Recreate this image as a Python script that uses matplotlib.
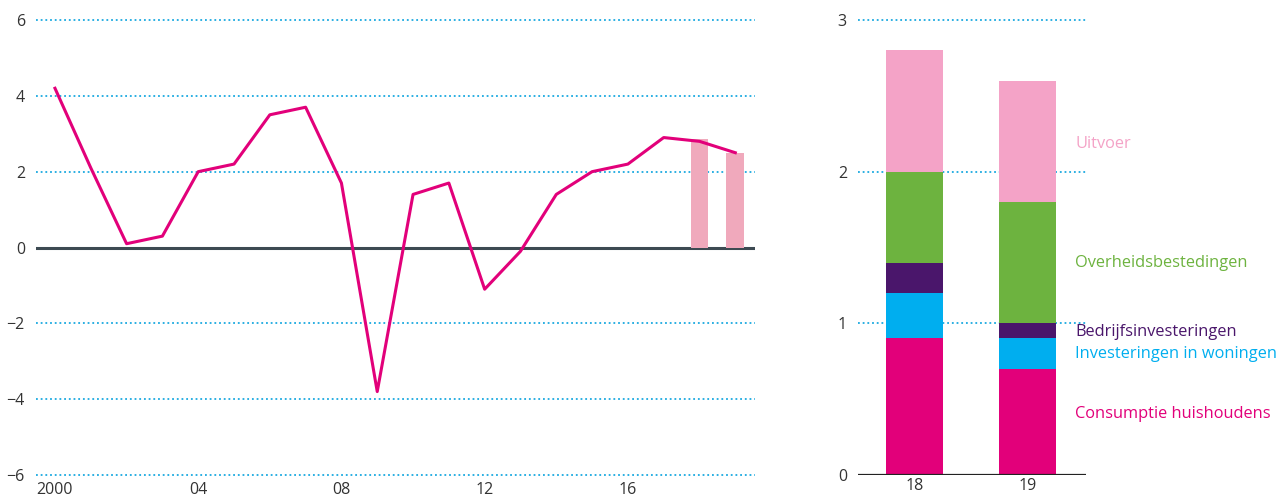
import matplotlib.pyplot as plt
import numpy as np

plt.rcParams['font.family'] = ['Open Sans', 'DejaVu Sans']

# Left chart: GDP growth (%)
years = np.arange(2000, 2020)
growth = [4.2, 2.1, 0.1, 0.3, 2.0, 2.2, 3.5, 3.7, 1.7, -3.8,
          1.4, 1.7, -1.1, -0.1, 1.4, 2.0, 2.2, 2.9, 2.8, 2.5]
forecast_years = [2018, 2019]
forecast_vals = [2.85, 2.5]
left_ticks = [2000, 2004, 2008, 2012, 2016]
left_ticklabels = ["2000", "04", "08", "12", "16"]

# Right chart: contributions to growth
bar_labels = ["18", "19"]
consumptie = [0.9, 0.7]
woningen = [0.3, 0.2]
bedrijfs = [0.2, 0.1]
overheid = [0.6, 0.8]
uitvoer = [0.8, 0.8]

pink = "#e2007a"
blue_grid = "#1aa9e0"
text_col = "#333333"

fig = plt.figure(figsize=(12.78, 4.99), dpi=100)

# ---- left panel
ax1 = fig.add_axes([36/1278, 0.0405, 719/1278, 0.927])
ax1.set_xlim(1999.47, 2019.55)
ax1.set_ylim(-6.1, 6.1)
for y in [-6, -4, -2, 2, 4, 6]:
    ax1.axhline(y, color=blue_grid, lw=1.3, ls=(0, (1, 1.6)), zorder=1)
ax1.axhline(0, color="#3d4a52", lw=2.2, zorder=2)
ax1.bar(forecast_years, forecast_vals, width=0.5, color="#f0a9bc", zorder=3)
ax1.plot(years, growth, color=pink, lw=2.2, zorder=4)
ax1.set_yticks([-6, -4, -2, 0, 2, 4, 6])
ax1.set_yticklabels(["\u22126", "\u22124", "\u22122", "0", "2", "4", "6"])
ax1.set_xticks(left_ticks)
ax1.set_xticklabels(left_ticklabels)

# ---- right panel
ax2 = fig.add_axes([858/1278, 0.0481, 228/1278, 0.921])
ax2.set_xlim(-0.5, 1.52)
ax2.set_ylim(0, 3.03)
for y in [1, 2, 3]:
    ax2.axhline(y, color=blue_grid, lw=1.3, ls=(0, (1, 1.6)), zorder=1)
ax2.axhline(0, color="#222222", lw=1.6, zorder=4)

x = np.arange(len(bar_labels))
series = [
    (consumptie, "#e2007a", "Consumptie huishoudens", 0.40),
    (woningen, "#00aeef", "Investeringen in woningen", 0.80),
    (bedrijfs, "#4a166b", "Bedrijfsinvesteringen", 0.94),
    (overheid, "#6db33f", "Overheidsbestedingen", 1.40),
    (uitvoer, "#f4a3c7", "Uitvoer", 2.18),
]
bottom = np.zeros(len(bar_labels))
for vals, col, name, ypos in series:
    ax2.bar(x, vals, bottom=bottom, width=0.5, color=col, zorder=3)
    bottom += np.array(vals)
    ax2.text(1.425, ypos, name, color=col, fontsize=11.8, va="center", ha="left", zorder=5)

ax2.set_yticks([0, 1, 2, 3])
ax2.set_xticks(x)
ax2.set_xticklabels(bar_labels)

for ax in (ax1, ax2):
    for s in ax.spines.values():
        s.set_visible(False)
    ax.tick_params(length=0, labelsize=11.5, colors=text_col, pad=8)
    ax.tick_params(axis="x", pad=2.5)

fig.savefig("out.png", dpi=100)
